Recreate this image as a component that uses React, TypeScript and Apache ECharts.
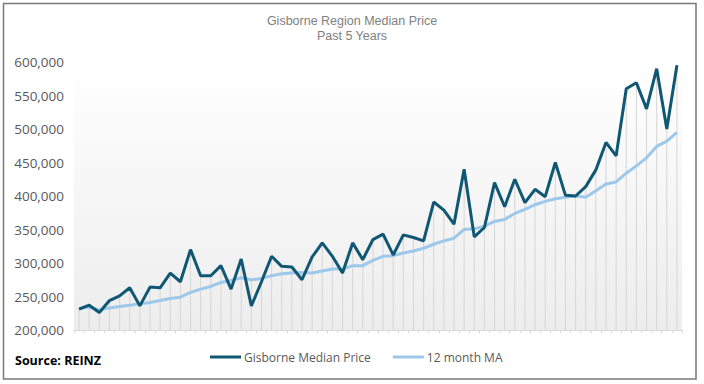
import React, { useEffect, useRef } from "react";
import * as echarts from "echarts";

const months: string[] = [
  "Jul-16","Aug-16","Sep-16","Oct-16","Nov-16","Dec-16",
  "Jan-17","Feb-17","Mar-17","Apr-17","May-17","Jun-17","Jul-17","Aug-17","Sep-17","Oct-17","Nov-17","Dec-17",
  "Jan-18","Feb-18","Mar-18","Apr-18","May-18","Jun-18","Jul-18","Aug-18","Sep-18","Oct-18","Nov-18","Dec-18",
  "Jan-19","Feb-19","Mar-19","Apr-19","May-19","Jun-19","Jul-19","Aug-19","Sep-19","Oct-19","Nov-19","Dec-19",
  "Jan-20","Feb-20","Mar-20","Apr-20","May-20","Jun-20","Jul-20","Aug-20","Sep-20","Oct-20","Nov-20","Dec-20",
  "Jan-21","Feb-21","Mar-21","Apr-21","May-21","Jun-21",
];

const medianPrice: number[] = [
  231000, 237000, 226000, 244000, 251000, 263000, 236000, 264000, 263000, 285000,
  272000, 320000, 281000, 281000, 296000, 261000, 306000, 236000, 272000, 310000,
  295000, 294000, 275000, 309000, 330000, 310000, 285000, 330000, 305000, 335000,
  343000, 312000, 342000, 338000, 333000, 391000, 379000, 358000, 440000, 339000,
  353000, 420000, 384000, 425000, 390000, 410000, 399000, 450000, 401000, 400000,
  414000, 439000, 480000, 460000, 560000, 569000, 530000, 590000, 500000, 595000,
];

const movingAverage: number[] = [
  232000, 234000, 230000, 233000, 235000, 237000, 239000, 241000, 244000, 247000,
  249000, 256000, 261000, 265000, 271000, 274000, 278000, 275000, 277000, 281000,
  284000, 285000, 286000, 285000, 288000, 291000, 291000, 296000, 296000, 304000,
  310000, 311000, 315000, 318000, 322000, 328000, 333000, 337000, 350000, 351000,
  355000, 362000, 365000, 374000, 380000, 387000, 392000, 396000, 398000, 400000,
  398000, 408000, 418000, 421000, 434000, 445000, 457000, 474000, 482000, 495000,
];

const yTicks = { min: 200000, max: 600000, interval: 50000 };

const seriesNames = ["Gisborne Median Price", "12 month MA"];

const FONT = "'Open Sans', 'DejaVu Sans', sans-serif";
const TITLE_FONT = "'Liberation Sans', Arial, sans-serif";

export default function App() {
  const ref = useRef<HTMLDivElement>(null);

  useEffect(() => {
    if (!ref.current) return;
    const chart = echarts.init(ref.current, undefined, { renderer: "svg" });
    const dropTop = medianPrice.map((v, i) => Math.max(v, movingAverage[i]));
    chart.setOption({
      animation: false,
      backgroundColor: "#ffffff",
      textStyle: { fontFamily: FONT },
      title: {
        text: "Gisborne Region Median Price",
        subtext: "Past 5 Years",
        left: "center",
        top: 14.5,
        padding: 0,
        itemGap: 2,
        textStyle: {
          fontSize: 12.5,
          fontWeight: "normal",
          color: "#808080",
          lineHeight: 12,
          fontFamily: TITLE_FONT,
        },
        subtextStyle: {
          fontSize: 12.5,
          color: "#808080",
          lineHeight: 12,
          fontFamily: TITLE_FONT,
        },
      },
      legend: {
        data: seriesNames,
        left: 210,
        top: 351,
        padding: 0,
        icon: "rect",
        itemWidth: 31,
        itemHeight: 3,
        itemGap: 22,
        textStyle: { fontSize: 12, color: "#595959", fontFamily: FONT, padding: [0, 0, 0, -2] },
      },
      grid: {
        left: 74,
        right: 22,
        top: 62,
        bottom: 54,
        show: true,
        borderWidth: 0,
        backgroundColor: new echarts.graphic.LinearGradient(0, 0, 0, 1, [
          { offset: 0, color: "#ffffff" },
          { offset: 1, color: "#ededed" },
        ]),
      },
      xAxis: {
        type: "category",
        data: months,
        boundaryGap: true,
        axisLine: { show: true, lineStyle: { color: "#d9d9d9", width: 1 } },
        axisTick: { show: true, interval: 0, length: 3, lineStyle: { color: "#d9d9d9" } },
        axisLabel: { show: false },
        splitLine: { show: false },
      },
      yAxis: {
        type: "value",
        min: yTicks.min,
        max: yTicks.max,
        interval: yTicks.interval,
        axisLine: { show: false },
        axisTick: { show: false },
        splitLine: { show: false },
        axisLabel: {
          margin: 10,
          fontSize: 13.5,
          color: "#595959",
          fontFamily: FONT,
          formatter: (v: number) => v.toLocaleString("en-US"),
        },
      },
      graphic: [
        {
          type: "rect",
          shape: { x: 3.5, y: 3.5, width: 692.5, height: 375.5 },
          style: { fill: "none", stroke: "#7a7a7a", lineWidth: 1.5 },
          silent: true,
        },
        {
          type: "text",
          left: 15,
          top: 354,
          style: {
            text: "Source: REINZ",
            fill: "#000000",
            font: `bold 12.5px ${FONT}`,
          },
        },
      ],
      series: [
        {
          name: "drop",
          type: "bar",
          data: dropTop,
          barWidth: 1,
          itemStyle: { color: "#d6d6d6" },
          silent: true,
          z: 1,
        },
        {
          name: seriesNames[0],
          type: "line",
          data: medianPrice,
          showSymbol: false,
          symbol: "none",
          lineStyle: { color: "#0f5773", width: 3 },
          itemStyle: { color: "#0f5773" },
          z: 3,
        },
        {
          name: seriesNames[1],
          type: "line",
          data: movingAverage,
          showSymbol: false,
          symbol: "none",
          lineStyle: { color: "#9dc8ea", width: 3 },
          itemStyle: { color: "#9dc8ea" },
          z: 2,
        },
      ],
    });
    return () => chart.dispose();
  }, []);

  return (
    <div
      ref={ref}
      style={{ position: "absolute", left: 0, top: 0, width: 704, height: 384 }}
    />
  );
}
